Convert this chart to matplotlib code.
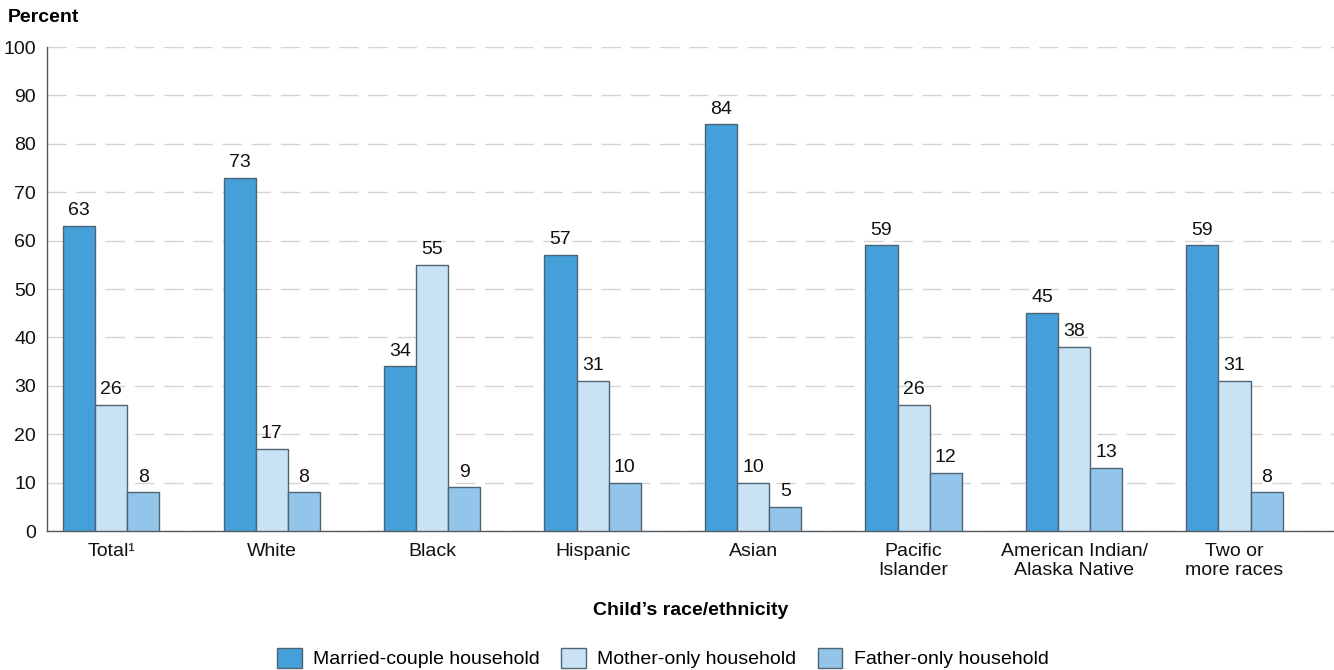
import numpy as np
import matplotlib as mpl
mpl.use('AGG')
import matplotlib.pyplot as plt

mpl.rc('font', **{'family': ['Liberation Sans', 'DejaVu Sans'], 'size': 14})

groups = ['Total\u00b9', 'White', 'Black', 'Hispanic', 'Asian',
          'Pacific\nIslander', 'American Indian/\nAlaska Native', 'Two or\nmore races']
married = [63, 73, 34, 57, 84, 59, 45, 59]
mother = [26, 17, 55, 31, 10, 26, 38, 31]
father = [8, 8, 9, 10, 5, 12, 13, 8]
series_names = ['Married-couple household', 'Mother-only household', 'Father-only household']
colors = ['#459fd8', '#c9e3f5', '#93c4e9']
edge = '#4d6475'

fig = plt.figure(figsize=(13.34, 6.7), dpi=100)
ax = fig.add_axes([47 / 1334, 139 / 670, 1 - 47 / 1334, 484 / 670])

x = np.arange(len(groups))
w = 0.2
for i, (vals, name) in enumerate(zip([married, mother, father], series_names)):
    pos = x + (i - 1) * w
    ax.bar(pos, vals, w, color=colors[i], edgecolor=edge, linewidth=1.0,
           label=name, zorder=3)
    for xx, v in zip(pos, vals):
        ax.text(xx, v + 1.4, str(v), ha='center', va='bottom', fontsize=14, color='#111111')

ax.set_ylim(0, 100)
ax.set_xlim(-0.4, 7.62)
ax.set_yticks(range(0, 101, 10))
ax.yaxis.grid(True, color='#d4d4d4', linestyle=(0, (14, 7)), linewidth=1.0, zorder=0)
ax.tick_params(axis='both', length=0, labelsize=14, colors='#111111')
ax.tick_params(axis='y', pad=8)
ax.tick_params(axis='x', pad=9)
ax.set_xticks(x)
ax.set_xticklabels(groups, linespacing=1.1)
for s in ['top', 'right']:
    ax.spines[s].set_visible(False)
for s in ['left', 'bottom']:
    ax.spines[s].set_color('#555a60')
    ax.spines[s].set_linewidth(1.0)

ax.set_xlabel('Child\u2019s race/ethnicity', fontweight='bold', fontsize=14, labelpad=17)
fig.text(8 / 1334, 1 - 17 / 670, 'Percent', fontweight='bold', fontsize=14, va='center')

fig.legend(loc='center', bbox_to_anchor=(0.497, 1 - 658 / 670), ncol=3, frameon=False,
           fontsize=14, handlelength=1.25, handleheight=1.25, columnspacing=1.1,
           handletextpad=0.6)

plt.savefig('out.png', dpi=100)
